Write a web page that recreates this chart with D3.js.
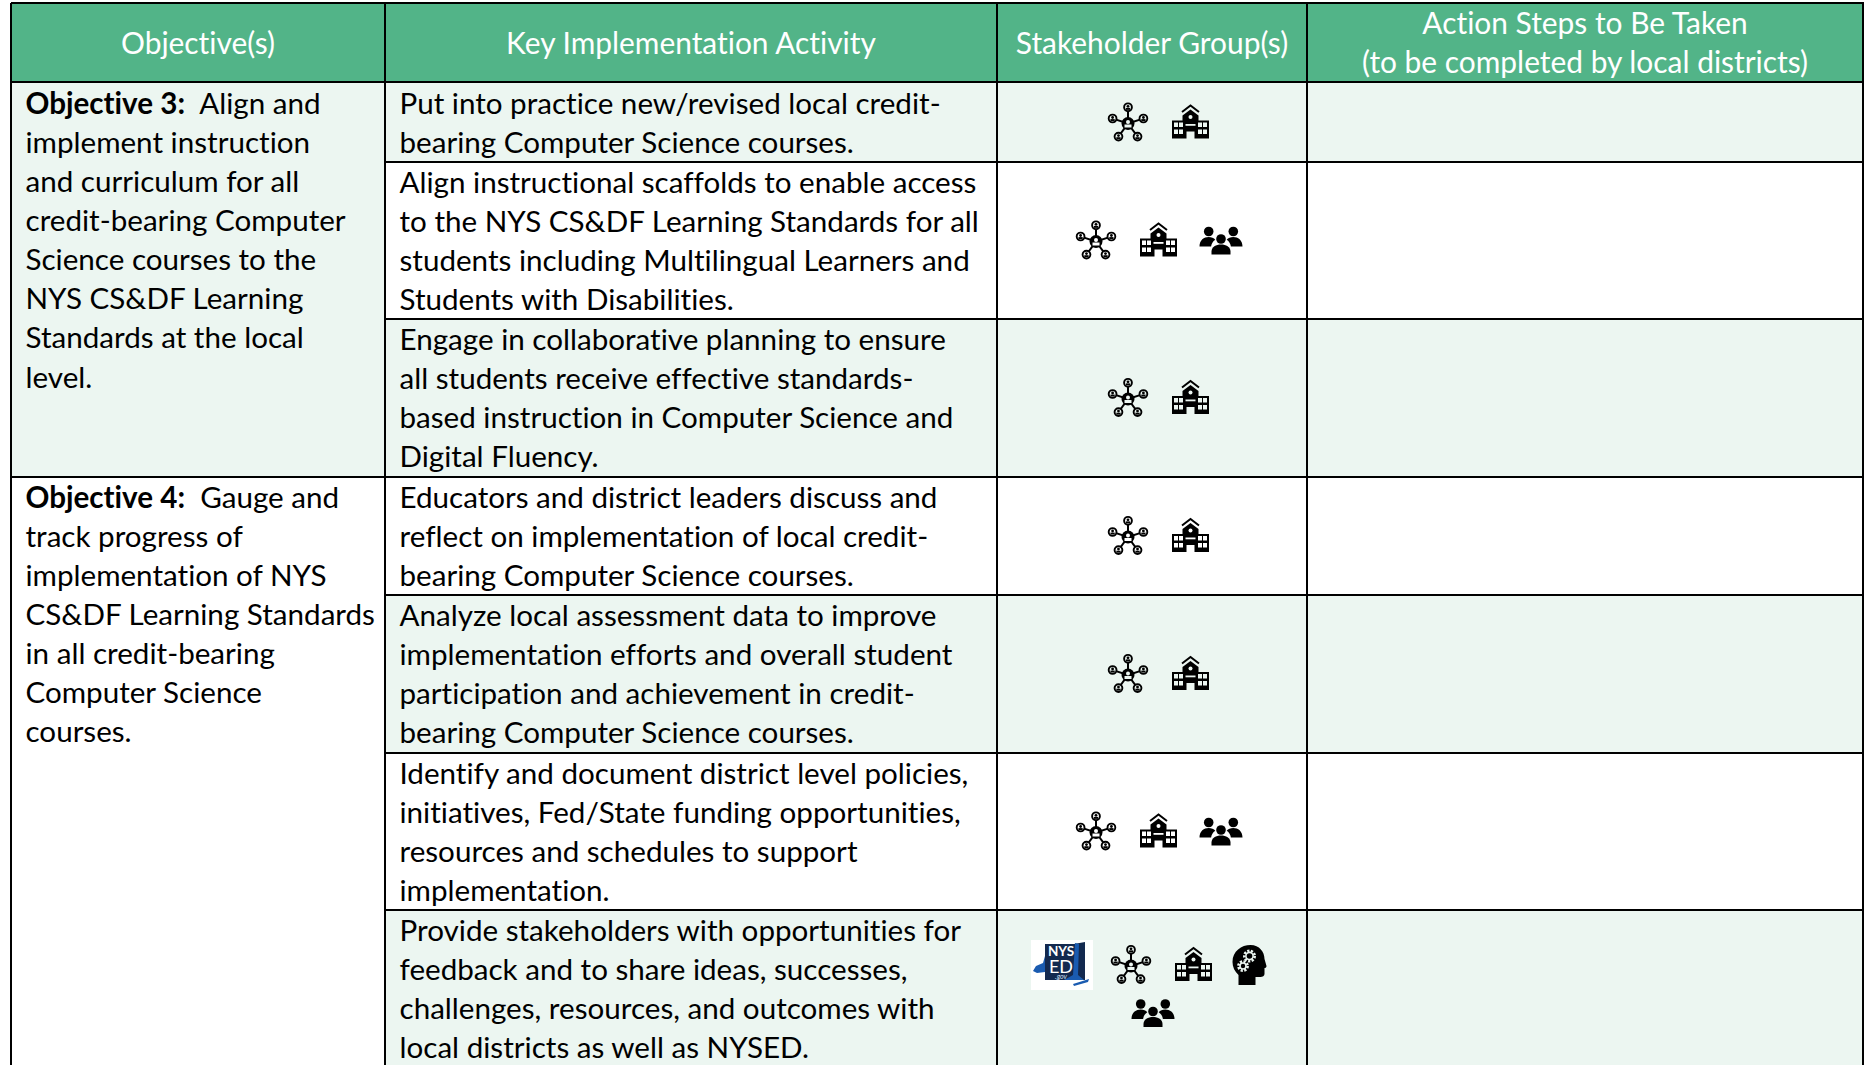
<!DOCTYPE html>
<html>
<head>
  <meta charset="utf-8">
  <script src="https://d3js.org/d3.v7.min.js"></script>
  <title>Objectives table</title>
  <style>
    body { margin: 0; background: #fff; }
    text { font-family: Lato, sans-serif; font-size: 29.6px; fill: #000; font-variant-ligatures: none; }
    .head { fill: #fff; text-anchor: middle; font-size: 29.9px; }
    .rule { stroke: #000; stroke-width: 2px; shape-rendering: crispEdges; }
  </style>
</head>
<body>
  <div id="table"></div>
  <script>
    // table content
    var headers = [
      ["Objective(s)"],
      ["Key Implementation Activity"],
      ["Stakeholder Group(s)"],
      ["Action Steps to Be Taken", "(to be completed by local districts)"]
    ];

    var objectives = [
      { bold: "Objective 3:", rows: 3, lines: ["  Align and", "implement instruction", "and curriculum for all", "credit-bearing Computer", "Science courses to the", "NYS CS&DF Learning", "Standards at the local", "level."] },
      { bold: "Objective 4:", rows: 4, lines: ["  Gauge and", "track progress of", "implementation of NYS", "CS&DF Learning Standards", "in all credit-bearing", "Computer Science", "courses."] }
    ];

    var activities = [
      ["Put into practice new/revised local credit-", "bearing Computer Science courses."],
      ["Align instructional scaffolds to enable access", "to the NYS CS&DF Learning Standards for all", "students including Multilingual Learners and", "Students with Disabilities."],
      ["Engage in collaborative planning to ensure", "all students receive effective standards-", "based instruction in Computer Science and", "Digital Fluency."],
      ["Educators and district leaders discuss and", "reflect on implementation of local credit-", "bearing Computer Science courses."],
      ["Analyze local assessment data to improve", "implementation efforts and overall student", "participation and achievement in credit-", "bearing Computer Science courses."],
      ["Identify and document district level policies,", "initiatives, Fed/State funding opportunities,", "resources and schedules to support", "implementation."],
      ["Provide stakeholders with opportunities for", "feedback and to share ideas, successes,", "challenges, resources, and outcomes with", "local districts as well as NYSED."]
    ];

    var stakeholders = [
      ["hub", "school"],
      ["hub", "school", "people"],
      ["hub", "school"],
      ["hub", "school"],
      ["hub", "school"],
      ["hub", "school", "people"],
      ["nysed", "hub", "school", "head", "people"]
    ];

    var width = 1864, height = 1065;
    var green = "#52b488", pale = "#ecf6f1";
    var rowStep = 39.4, textStep = 39.1;

    var svg = d3.select("#table").append("svg")
      .attr("width", width)
      .attr("height", height)
      .style("display", "block");

    // column edges
    var x = d3.scaleOrdinal().domain([0, 1, 2, 3, 4]).range([11, 385, 997, 1307, 1863]);

    // rows are as tall as their text, so the y scale runs on counted lines
    var cumLines = [0];
    activities.forEach(function(d) { cumLines.push(cumLines[cumLines.length - 1] + d.length); });
    var y = d3.scaleLinear().domain([0, 1]).range([83, 83 + rowStep]);
    var rowTop = function(i) { return Math.round(y(cumLines[i])); };
    var headTop = 3;
    var headBottom = rowTop(0) - 1;

    // header band
    svg.append("rect").attr("x", x(0)).attr("y", headTop)
      .attr("width", x(4) - x(0)).attr("height", headBottom - headTop).attr("fill", green);

    // objective cells
    var first = 0;
    objectives.forEach(function(o, i) {
      o.start = first;
      first += o.rows;
      if (i % 2 == 0) {
        svg.append("rect").attr("x", x(0)).attr("y", rowTop(o.start) - 1)
          .attr("width", x(1) - x(0)).attr("height", rowTop(first) - rowTop(o.start) + 1).attr("fill", pale);
      }
    });

    // striped activity rows
    svg.selectAll(".stripe")
      .data(activities)
      .enter().append("rect")
      .attr("class", "stripe")
      .attr("x", x(1))
      .attr("y", function(d, i) { return rowTop(i) - 1; })
      .attr("width", x(4) - x(1))
      .attr("height", function(d, i) { return rowTop(i + 1) - rowTop(i) + 1; })
      .attr("fill", function(d, i) { return i % 2 == 0 ? pale : "#fff"; });

    // rules
    function hline(x1, x2, yy) {
      svg.append("line").attr("class", "rule").attr("x1", x1).attr("x2", x2).attr("y1", yy).attr("y2", yy);
    }
    function vline(xx, y1, y2) {
      svg.append("line").attr("class", "rule").attr("x1", xx).attr("x2", xx).attr("y1", y1).attr("y2", y2);
    }
    hline(x(0), width, headTop);
    hline(x(0), width, headBottom);
    activities.forEach(function(d, i) { if (i > 0) hline(x(1), x(4), rowTop(i)); });
    hline(x(0), x(1), rowTop(objectives[1].start));
    [0, 1, 2, 3, 4].forEach(function(c) { vline(x(c), headTop, height); });

    // header labels
    headers.forEach(function(lines, c) {
      var mid = (x(c) + x(c + 1)) / 2;
      var base = lines.length == 1 ? 53.7 : 34;
      svg.selectAll(".head" + c)
        .data(lines)
        .enter().append("text")
        .attr("class", "head head" + c)
        .attr("x", mid)
        .attr("y", function(d, i) { return base + i * textStep; })
        .text(function(d) { return d; });
    });

    // objective text
    objectives.forEach(function(o) {
      var top = rowTop(o.start) + 30.8;
      var t = svg.selectAll(".obj" + o.start)
        .data(o.lines)
        .enter().append("text")
        .attr("class", "obj" + o.start)
        .attr("x", x(0) + 14.5)
        .attr("y", function(d, i) { return top + i * textStep; })
        .style("white-space", "pre");
      t.filter(function(d, i) { return i == 0; })
        .append("tspan").attr("font-weight", "bold").text(o.bold);
      t.append("tspan").text(function(d) { return d; });
    });

    // activity text
    activities.forEach(function(lines, r) {
      svg.selectAll(".act" + r)
        .data(lines)
        .enter().append("text")
        .attr("class", "act" + r)
        .attr("x", x(1) + 14.5)
        .attr("y", function(d, i) { return rowTop(r) + 30.8 + i * textStep; })
        .text(function(d) { return d; });
    });

    // icons, each drawn round 0,0, on the colour of the cell
    var iconBg = "#fff";

    function person(g, r) {
      g.append("circle").attr("r", r).attr("fill", iconBg).attr("stroke", "#000").attr("stroke-width", 1.9);
      g.append("circle").attr("cy", -1).attr("r", r * 0.36).attr("fill", "#000");
      g.append("rect").attr("x", -r * 0.55).attr("y", 0.6).attr("width", r * 1.1).attr("height", r * 0.5).attr("fill", "#000");
    }
    function hub(g) {
      g = g.append("g").attr("transform", "translate(0,1)");
      var spokes = [-90, -18, 54, 126, 198];
      g.selectAll("line").data(spokes).enter().append("line")
        .attr("x2", function(a) { return 15 * Math.cos(a * Math.PI / 180); })
        .attr("y2", function(a) { return 15 * Math.sin(a * Math.PI / 180); })
        .attr("stroke", "#000").attr("stroke-width", 2);
      g.selectAll(".node").data(spokes).enter().append("g")
        .attr("class", "node")
        .attr("transform", function(a) {
          return "translate(" + 16.2 * Math.cos(a * Math.PI / 180) + "," + 16.2 * Math.sin(a * Math.PI / 180) + ")";
        })
        .each(function() { person(d3.select(this), 3.9); });
      g.append("circle").attr("r", 6.5).attr("fill", "#000");
      g.append("circle").attr("cy", -1.6).attr("r", 2).attr("fill", iconBg);
      g.append("rect").attr("x", -3.5).attr("y", 1).attr("width", 7).attr("height", 3).attr("fill", iconBg);
    }
    function school(g) {
      g.append("path").attr("fill", "#000")
        .attr("d", "M-18.5,-2H-8V-7L0,-13L8,-7V-2H18.5V16H4V9H-4V16H-18.5Z");
      g.append("path").attr("fill", "none").attr("stroke", "#000").attr("stroke-width", 2)
        .attr("d", "M-8.5,-10.5L0,-17L8.5,-10.5");
      g.append("circle").attr("cy", -5.5).attr("r", 2).attr("fill", iconBg);
      var panes = [];
      [-16.5, -11.5, 7.5, 12.5].forEach(function(px) {
        [0, 7].forEach(function(py) { panes.push([px, py]); });
      });
      g.selectAll(".pane").data(panes).enter().append("rect")
        .attr("class", "pane")
        .attr("x", function(p) { return p[0]; })
        .attr("y", function(p) { return p[1]; })
        .attr("width", 4).attr("height", 4.5).attr("fill", iconBg);
      g.append("rect").attr("x", -5).attr("y", 1.5).attr("width", 10).attr("height", 1.8).attr("fill", iconBg);
    }
    function people(g) {
      [-12.3, 12.3].forEach(function(px) {
        g.append("circle").attr("cx", px).attr("cy", -9).attr("r", 4.8).attr("fill", "#000");
        var s = px < 0 ? 1 : -1;
        g.append("path").attr("fill", "#000")
          .attr("transform", "scale(" + s + ",1)")
          .attr("d", "M-21.5,6C-21.5,-0.5 -17,-3.5 -12.3,-3.5C-9.5,-3.5 -7.2,-2.5 -5.7,-0.7C-8.2,1 -9.5,3.2 -9.9,6Z");
      });
      g.append("circle").attr("cy", -1.5).attr("r", 4.8).attr("fill", "#000");
      g.append("path").attr("d", "M-9.5,14V11C-9.5,6.5 -5,4 0,4C5,4 9.5,6.5 9.5,11V14Z").attr("fill", "#000");
    }
    function head(g) {
      g.append("path").attr("fill", "#000")
        .attr("d", "M-11,20V10C-15,6 -17,2 -17,-3C-17,-14 -8,-20 1,-20C10,-20 15,-13 15,-6L17,1C17,2.5 16,3 15,3V9C15,11 13,12 11,12H6V20Z");
      [[0, -9, 5.2], [-6.5, 1, 4.6]].forEach(function(p) {
        var cog = g.append("g").attr("transform", "translate(" + p[0] + "," + p[1] + ")");
        cog.append("circle").attr("r", p[2]).attr("fill", "none").attr("stroke", iconBg).attr("stroke-width", 2.6).attr("stroke-dasharray", "2.2 1.4");
        cog.append("circle").attr("r", p[2] - 1.6).attr("fill", "none").attr("stroke", iconBg).attr("stroke-width", 1.6);
      });
    }
    function nysed(g) {
      g.append("rect").attr("x", -31).attr("y", -25).attr("width", 62).attr("height", 50).attr("fill", "#fff");
      g.append("path").attr("fill", "#13294f").attr("d", "M-17,-21L12,-21L23,-23V15H-17Z");
      g.append("path").attr("fill", "#1a5bb0")
        .attr("d", "M-29,6L-26,1L-19,-2L-17,-9V7L-25,8Z M13,-22L17,-21L16,10L22,15L2,15L11,10Z M11,19L27,14L26,17L12,21Z");
      g.append("text").attr("x", -1).attr("y", -9).attr("text-anchor", "middle")
        .style("font-size", "13.5px").style("font-weight", "bold").style("fill", "#fff").text("NYS");
      g.append("text").attr("x", -1).attr("y", 7.5).attr("text-anchor", "middle")
        .style("font-size", "18px").style("fill", "#fff").text("ED");
      g.append("text").attr("x", -1).attr("y", 14).attr("text-anchor", "middle")
        .style("font-size", "7px").style("font-style", "italic").style("fill", "#cfe0f5").text(".gov");
    }
    var drawIcon = { hub: hub, school: school, people: people, head: head, nysed: nysed };
    // room each icon takes in its line
    var iconWidth = { hub: 40, school: 37, people: 40, head: 27, nysed: 50 };
    var iconGap = 24;

    // icons sit side by side about the middle of their line
    stakeholders.forEach(function(icons, r) {
      iconBg = r % 2 == 0 ? pale : "#fff";
      var lines = icons.length > 4 ? [icons.slice(0, 4), icons.slice(4)] : [icons];
      lines.forEach(function(line, l) {
        var midY = lines.length == 1 ? (rowTop(r) + rowTop(r + 1)) / 2 : rowTop(r) + 55 + l * 48;
        var mid = lines.length == 1 ? 1158.5 : (l == 0 ? 1150 : 1153);
        var total = d3.sum(line, function(n) { return iconWidth[n]; }) + (line.length - 1) * iconGap;
        var left = mid - total / 2;
        line.forEach(function(name) {
          svg.append("g")
            .attr("transform", "translate(" + (left + iconWidth[name] / 2) + "," + midY + ")")
            .call(drawIcon[name]);
          left += iconWidth[name] + iconGap;
        });
      });
    });
  </script>
</body>
</html>
